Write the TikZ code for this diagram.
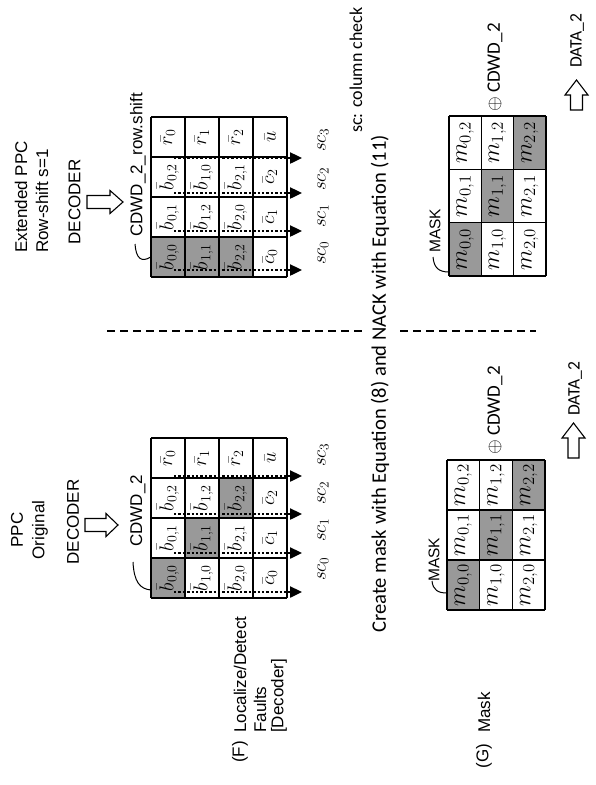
\RequirePackage{fix-cm}
\documentclass[tikz,border=0pt]{standalone}
\usepackage{fontspec}
\setmainfont{Liberation Sans}
\newfontfamily\calfont{Carlito}
\usetikzlibrary{arrows.meta}
\newcommand\fsz[1]{\fontsize{#1}{#1}\selectfont}
\tikzset{
  lab/.style={rotate=90, inner sep=0pt, font=\fsz{17}},
  clab/.style={rotate=90, inner sep=0pt, font=\calfont\fsz{19}},
  fillcell/.style={rotate=90, inner sep=0pt, minimum width=40pt, minimum height=34pt, font=\fsz{20}},
  mcell/.style={rotate=90, inner sep=0pt, font=\fsz{24}},
  shd/.style={fill=black!40},
  wht/.style={fill=white},
  gridline/.style={line width=1.1pt},
  dotline/.style={line width=2.4pt, dash pattern=on 2.4pt off 2pt, -{Triangle[length=12pt,width=11pt]}},
  dashline/.style={line width=1.4pt, dash pattern=on 8pt off 5pt},
  leader/.style={line width=1pt},
  blockarrow/.style={line width=1.1pt, fill=white},
  sclab/.style={rotate=90, inner sep=0pt, font=\fsz{19}}
}
\newcommand\ecell[4]{\node[fillcell,#4] (E-#1-#2) at ({168+34*#1},{257-40*#2}) {$#3$};}
\newcommand\ocell[4]{\node[fillcell,#4] (O-#1-#2) at ({168+34*#1},{578-40*#2}) {$#3$};}
\begin{document}
\begin{tikzpicture}[x=1pt,y=-1pt]
\useasboundingbox[fill=white] (0,0) rectangle (596,785);

% ---------------- Extended PPC (top in page) ----------------
\node[lab, anchor=west] (extppc) at (21,253) {Extended PPC};
\node[lab, anchor=west] (rowshift) at (42,253) {Row-shift s=1};
\node[lab] (decE) at (74.5,202) {DECODER};
\draw[blockarrow] (87,195.5) -- (110,195.5) -- (110,190.5) -- (123,202) -- (110,213.5) -- (110,208.5) -- (87,208.5) -- cycle;
\node[lab, anchor=west] (cdwdE) at (138,237) {CDWD\_2\_row.shift};

\ecell{0}{0}{\bar{b}_{0,0}}{shd}
\ecell{0}{1}{\bar{b}_{0,1}}{wht}
\ecell{0}{2}{\bar{b}_{0,2}}{wht}
\ecell{0}{3}{\bar{r}_0}{wht}
\ecell{1}{0}{\bar{b}_{1,1}}{shd}
\ecell{1}{1}{\bar{b}_{1,2}}{wht}
\ecell{1}{2}{\bar{b}_{1,0}}{wht}
\ecell{1}{3}{\bar{r}_1}{wht}
\ecell{2}{0}{\bar{b}_{2,2}}{shd}
\ecell{2}{1}{\bar{b}_{2,0}}{wht}
\ecell{2}{2}{\bar{b}_{2,1}}{wht}
\ecell{2}{3}{\bar{r}_2}{wht}
\ecell{3}{0}{\bar{c}_0}{wht}
\ecell{3}{1}{\bar{c}_1}{wht}
\ecell{3}{2}{\bar{c}_2}{wht}
\ecell{3}{3}{\bar{u}}{wht}
\foreach \xx in {151,185,219,253,287} \draw[gridline] (\xx,117) -- (\xx,277);
\foreach \yy in {117,157,197,237,277} \draw[gridline] (151,\yy) -- (287,\yy);
\draw[leader] (135,244) .. controls (136,258) and (141,263) .. (E-0-0.north);

\foreach \i/\yy in {0/270,1/231,2/193,3/158} {
  \coordinate (Es\i) at (174,\yy);
  \coordinate (Ee\i) at (302,\yy);
  \draw[dotline] (Es\i) -- (Ee\i);
}
\node[sclab] (sc0E) at (323,253) {$sc_0$};
\node[sclab] (sc1E) at (323,216) {$sc_1$};
\node[sclab] (sc2E) at (323,179) {$sc_2$};
\node[sclab] (sc3E) at (323,140) {$sc_3$};
\node[clab, anchor=west, font=\calfont\fsz{18}] (sccheck) at (356,133) {sc: column check};

% ---------------- Original PPC (bottom in page) ----------------
\node[lab] (ppc) at (17,530) {PPC};
\node[lab] (orig) at (40,530) {Original};
\node[lab] (decO) at (73,522) {DECODER};
\draw[blockarrow] (85,518.5) -- (106,518.5) -- (106,513.5) -- (118,525) -- (106,536.5) -- (106,531.5) -- (85,531.5) -- cycle;
\node[lab, anchor=west] (cdwdO) at (138,547) {CDWD\_2};

\ocell{0}{0}{\bar{b}_{0,0}}{shd}
\ocell{0}{1}{\bar{b}_{0,1}}{wht}
\ocell{0}{2}{\bar{b}_{0,2}}{wht}
\ocell{0}{3}{\bar{r}_0}{wht}
\ocell{1}{0}{\bar{b}_{1,0}}{wht}
\ocell{1}{1}{\bar{b}_{1,1}}{shd}
\ocell{1}{2}{\bar{b}_{1,2}}{wht}
\ocell{1}{3}{\bar{r}_1}{wht}
\ocell{2}{0}{\bar{b}_{2,0}}{wht}
\ocell{2}{1}{\bar{b}_{2,1}}{wht}
\ocell{2}{2}{\bar{b}_{2,2}}{shd}
\ocell{2}{3}{\bar{r}_2}{wht}
\ocell{3}{0}{\bar{c}_0}{wht}
\ocell{3}{1}{\bar{c}_1}{wht}
\ocell{3}{2}{\bar{c}_2}{wht}
\ocell{3}{3}{\bar{u}}{wht}
\foreach \xx in {151,185,219,253,287} \draw[gridline] (\xx,438) -- (\xx,598);
\foreach \yy in {438,478,518,558,598} \draw[gridline] (151,\yy) -- (287,\yy);
\draw[leader] (133,562) .. controls (134,582) and (140,589) .. (151,590);

\foreach \i/\yy in {0/592,1/553,2/514,3/476} {
  \coordinate (Os\i) at (174,\yy);
  \coordinate (Oe\i) at (302,\yy);
  \draw[dotline] (Os\i) -- (Oe\i);
}
\node[sclab] (sc0O) at (323,569) {$sc_0$};
\node[sclab] (sc1O) at (323,530) {$sc_1$};
\node[sclab] (sc2O) at (323,493) {$sc_2$};
\node[sclab] (sc3O) at (323,455) {$sc_3$};

% ---------------- left labels ----------------
\node[lab] (F) at (240,752) {(F)};
\node[lab, anchor=west] (loc) at (240,733) {Localize/Detect};
\node[lab, anchor=west] (faults) at (260,733) {Faults};
\node[lab, anchor=west] (decbr) at (279,733) {[Decoder]};
\node[lab] (G) at (484,756) {(G)};
\node[lab, anchor=west] (mask) at (484,733) {Mask};

% ---------------- divider and caption ----------------
\coordinate (d1a) at (107,331); \coordinate (d1b) at (366,331);
\coordinate (d2a) at (400,331); \coordinate (d2b) at (536,331);
\draw[dashline] (d1a) -- (d1b);
\draw[dashline] (d2a) -- (d2b);
\node[clab, anchor=west, font=\calfont\fsz{20.6}] (create) at (380,633) {Create mask with Equation (8) and NACK with Equation (11)};

% ---------------- MASK right (top) ----------------
\node[lab, anchor=west, font=\fsz{15.5}] (maskR) at (435,253) {MASK};
\fill[black!40] (449,222.7) rectangle (481.3,276);
\fill[black!40] (481.3,169.3) rectangle (513.7,222.7);
\fill[black!40] (513.7,116) rectangle (546,169.3);
\foreach \r/\c/\t in {0/0/{m_{0,0}},0/1/{m_{0,1}},0/2/{m_{0,2}},1/0/{m_{1,0}},1/1/{m_{1,1}},1/2/{m_{1,2}},2/0/{m_{2,0}},2/1/{m_{2,1}},2/2/{m_{2,2}}}
  \node[mcell] (MR-\r-\c) at ({449+32.33*\r+16.17},{276-53.33*\c-26.67}) {$\t$};
\foreach \xx in {449,481.3,513.7,546} \draw[gridline] (\xx,116) -- (\xx,276);
\foreach \yy in {116,169.3,222.7,276} \draw[gridline] (449,\yy) -- (546,\yy);
\draw[leader] (433,257) .. controls (434,268) and (439,272) .. (449,272);
\node[clab, anchor=west] (cdwdR) at (495,112) {$\oplus$ CDWD\_2};
\draw[blockarrow] (570.5,110) -- (570.5,95) -- (565,95) -- (576.5,80) -- (588,95) -- (582.5,95) -- (582.5,110) -- cycle;
\node[clab, anchor=west, font=\calfont\fsz{17.5}] (dataR) at (577,68) {DATA\_2};

% ---------------- MASK left (bottom) ----------------
\node[lab, anchor=west, font=\fsz{15.5}] (maskL) at (434,582) {MASK};
\fill[black!40] (447,560) rectangle (479.7,610);
\fill[black!40] (479.7,510) rectangle (512.3,560);
\fill[black!40] (512.3,460) rectangle (545,510);
\foreach \r/\c/\t in {0/0/{m_{0,0}},0/1/{m_{0,1}},0/2/{m_{0,2}},1/0/{m_{1,0}},1/1/{m_{1,1}},1/2/{m_{1,2}},2/0/{m_{2,0}},2/1/{m_{2,1}},2/2/{m_{2,2}}}
  \node[mcell] (ML-\r-\c) at ({447+32.67*\r+16.33},{610-50*\c-25}) {$\t$};
\foreach \xx in {447,479.7,512.3,545} \draw[gridline] (\xx,460) -- (\xx,610);
\foreach \yy in {460,510,560,610} \draw[gridline] (447,\yy) -- (545,\yy);
\draw[leader] (432,581) .. controls (433,590) and (438,593) .. (447,593);
\node[clab, anchor=west] (cdwdL) at (495,455) {$\oplus$ CDWD\_2};
\draw[blockarrow] (568,458) -- (568,438) -- (562,438) -- (573.5,423) -- (585,438) -- (579,438) -- (579,458) -- cycle;
\node[clab, anchor=west, font=\calfont\fsz{17.5}] (dataL) at (575,416) {DATA\_2};
\end{tikzpicture}
\end{document}
